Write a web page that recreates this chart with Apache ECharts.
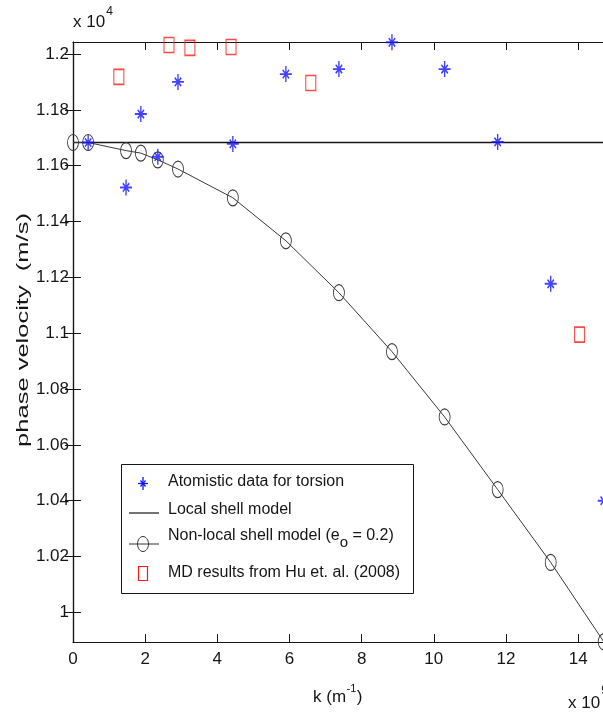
<!DOCTYPE html>
<html>
<head>
<meta charset="utf-8">
<script src="https://cdn.jsdelivr.net/npm/echarts@6.0.0/dist/echarts.min.js"></script>
<style>
  html, body { margin: 0; padding: 0; background: #fff; }
  #chart { width: 603px; height: 716px; }
</style>
</head>
<body>
<div id="chart"></div>
<script>
// Wavenumber k (x 10^9 1/m) and phase velocity (x 10^4 m/s)
const kNonlocal = [0, 0.42, 1.47, 1.88, 2.35, 2.91, 4.43, 5.90, 7.37, 8.84, 10.30, 11.77, 13.24, 14.71];
const vNonlocal = [1.1683, 1.1683, 1.1654, 1.1645, 1.1621, 1.1588, 1.1485, 1.1331, 1.1145, 1.0934, 1.0700, 1.0440, 1.0179, 0.9895];

const kAtomistic = [0.42, 1.47, 1.88, 2.35, 2.91, 4.43, 5.90, 7.37, 8.84, 10.30, 11.77, 13.24, 14.71];
const vAtomistic = [1.1683, 1.1522, 1.1785, 1.1632, 1.1900, 1.1678, 1.1928, 1.1946, 1.2042, 1.1946, 1.1685, 1.1177, 1.0400];

const kMD = [1.27, 2.66, 3.24, 4.38, 6.59, 14.04];
const vMD = [1.1918, 1.2032, 1.2022, 1.2025, 1.1896, 1.0995];

const kLocal = [0, 14.8];
const vLocal = [1.1683, 1.1683];

const xTicks = [0, 2, 4, 6, 8, 10, 12, 14];
const yTicks = [1, 1.02, 1.04, 1.06, 1.08, 1.1, 1.12, 1.14, 1.16, 1.18, 1.2];

const X_MIN = 0, X_MAX = 14.8;
const Y_MIN = 0.9894, Y_MAX = 1.2043;

const FONT = '"Liberation Sans", Arial, Helvetica, sans-serif';
const INK = '#161616';
const BLUE = '#1414ff';
const RED = '#ff1a1a';

const zip = (xs, ys) => xs.map((x, i) => [x, ys[i]]);

// text measuring for super/subscript placement
const mctx = document.createElement('canvas').getContext('2d');
function tw(s, size) { mctx.font = size + 'px ' + FONT; return mctx.measureText(s).width; }
function txt(s, x, y, size, extra) {
  return Object.assign({
    type: 'text', x: x, y: y, silent: true,
    style: { text: s, fontSize: size, fontFamily: FONT, fill: INK, align: 'left', verticalAlign: 'middle' }
  }, extra || {});
}

// asterisk: long vertical and horizontal strokes, short diagonals
const asterisk = 'path://M0,-8L0,8M-6,0L6,0M-3.2,-4.2L3.2,4.2M-3.2,4.2L3.2,-4.2';
const ellipse = 'path://M0,-1C0.552,-1,1,-0.552,1,0C1,0.552,0.552,1,0,1C-0.552,1,-1,0.552,-1,0C-1,-0.552,-0.552,-1,0,-1Z';

const tickStyle = { show: true, inside: true, length: 8, lineStyle: { color: INK, width: 1 } };
const lineStyle = { show: true, lineStyle: { color: INK, width: 1.2 } };

// annotation texts
const g = [];
g.push(txt('x 10', 73, 22, 17));
g.push(txt('4', 73 + tw('x 10', 17) + 1, 12, 12));
g.push(txt('x 10', 568, 703, 17));
g.push(txt('9', 568 + tw('x 10', 17) + 1, 691, 12));

// x axis title k (m^-1)
(function () {
  const x0 = 313, y0 = 697;
  const w1 = tw('k (m', 17);
  g.push(txt('k (m', x0, y0, 17));
  g.push(txt('-1', x0 + w1 + 0.5, y0 - 8, 11));
  g.push(txt(')', x0 + w1 + tw('-1', 11) + 1, y0, 17));
})();

// y axis title
g.push({
  type: 'text', x: 23, y: 330, rotation: Math.PI / 2, scaleX: 1.5, silent: true,
  style: { text: 'phase velocity  (m/s)', fontSize: 17, fontFamily: FONT, fill: INK, align: 'center', verticalAlign: 'middle' }
});

// legend box
g.push({ type: 'rect', shape: { x: 121.5, y: 464.5, width: 292, height: 129 },
  style: { fill: '#fff', stroke: INK, lineWidth: 1 }, z: 10 });
const lz = 11;
// asterisk entry
[[143, 477, 143, 490], [138, 483.5, 148, 483.5], [140.5, 480.5, 145.5, 486.5], [140.5, 486.5, 145.5, 480.5]].forEach(s => {
  g.push({ type: 'line', z: lz, shape: { x1: s[0], y1: s[1], x2: s[2], y2: s[3] }, style: { stroke: BLUE, lineWidth: 1.3 } });
});
g.push(txt('Atomistic data for torsion', 168, 482, 16, { z: lz }));
// local shell model entry
g.push({ type: 'line', z: lz, shape: { x1: 129, y1: 513, x2: 159, y2: 513 }, style: { stroke: INK, lineWidth: 1.2 } });
g.push(txt('Local shell model', 168, 510, 16, { z: lz }));
// non-local shell model entry
g.push({ type: 'line', z: lz, shape: { x1: 129, y1: 544, x2: 159, y2: 544 }, style: { stroke: '#333', lineWidth: 1 } });
g.push({ type: 'ellipse', z: lz, shape: { cx: 143, cy: 544, rx: 5.5, ry: 7.5 }, style: { fill: 'none', stroke: '#333', lineWidth: 1 } });
(function () {
  const a = 'Non-local shell model (e';
  const wa = tw(a, 16);
  g.push(txt(a, 168, 536, 16, { z: lz }));
  g.push(txt('o', 168 + wa, 543, 15, { z: lz }));
  g.push(txt(' = 0.2)', 168 + wa + tw('o', 15), 536, 16, { z: lz }));
})();
// MD entry
g.push({ type: 'rect', z: lz, shape: { x: 138.5, y: 566.5, width: 9, height: 14 }, style: { fill: 'none', stroke: RED, lineWidth: 1.2 } });
g.push(txt('MD results from Hu et. al. (2008)', 168, 573, 16, { z: lz }));

const fmt = v => String(+v.toFixed(2));

const option = {
  animation: false,
  backgroundColor: '#fff',
  grid: { left: 73, top: 42, right: -4, bottom: 74, outerBoundsMode: 'none' },
  xAxis: [{
    type: 'value', min: X_MIN, max: X_MAX, position: 'bottom',
    axisLine: lineStyle,
    axisTick: Object.assign({ customValues: xTicks }, tickStyle),
    axisLabel: { customValues: xTicks, formatter: fmt, fontSize: 17, fontFamily: FONT, color: INK, margin: 9 },
    splitLine: { show: false }
  }, {
    type: 'value', min: X_MIN, max: X_MAX, position: 'top',
    axisLine: lineStyle,
    axisTick: Object.assign({ customValues: xTicks }, tickStyle),
    axisLabel: { show: false },
    splitLine: { show: false }
  }],
  yAxis: [{
    type: 'value', min: Y_MIN, max: Y_MAX, position: 'left',
    axisLine: lineStyle,
    axisTick: Object.assign({ customValues: yTicks }, tickStyle),
    axisLabel: { customValues: yTicks, formatter: fmt, fontSize: 17, fontFamily: FONT, color: INK, margin: 4 },
    splitLine: { show: false }
  }, {
    type: 'value', min: Y_MIN, max: Y_MAX, position: 'right',
    axisLine: lineStyle,
    axisTick: Object.assign({ customValues: yTicks }, tickStyle),
    axisLabel: { show: false },
    splitLine: { show: false }
  }],
  series: [
    {
      name: 'Local shell model', type: 'line', data: zip(kLocal, vLocal),
      showSymbol: false, lineStyle: { color: INK, width: 1.3 }, z: 2
    },
    {
      name: 'Non-local shell model', type: 'line', data: zip(kNonlocal, vNonlocal),
      symbol: ellipse, symbolSize: [11, 16], showAllSymbol: true,
      lineStyle: { color: '#3a3a3a', width: 1 },
      itemStyle: { color: 'rgba(0,0,0,0)', borderColor: '#3a3a3a', borderWidth: 1 },
      z: 3
    },
    {
      name: 'Atomistic data for torsion', type: 'scatter', data: zip(kAtomistic, vAtomistic),
      symbol: asterisk, symbolSize: [12, 16], clip: false,
      itemStyle: { color: 'rgba(0,0,0,0)', borderColor: BLUE, borderWidth: 1.6 },
      z: 4
    },
    {
      name: 'MD results from Hu et. al. (2008)', type: 'scatter', data: zip(kMD, vMD),
      symbol: 'rect', symbolSize: [10, 15], clip: false,
      itemStyle: { color: 'rgba(0,0,0,0)', borderColor: RED, borderWidth: 1.3 },
      z: 4
    }
  ],
  graphic: { elements: g }
};

const chart = echarts.init(document.getElementById('chart'), null, { renderer: 'canvas' });
chart.setOption(option);
</script>
</body>
</html>
